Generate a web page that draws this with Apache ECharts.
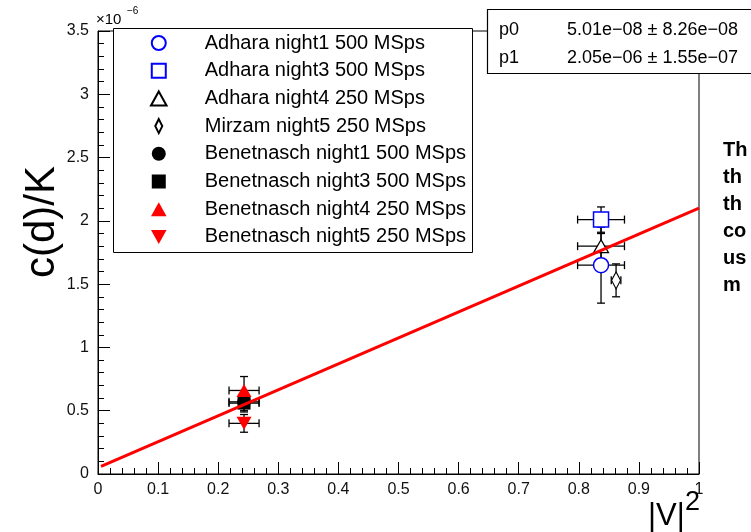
<!DOCTYPE html>
<html><head><meta charset="utf-8">
<script src="https://cdn.jsdelivr.net/npm/echarts@6/dist/echarts.min.js"></script>
<style>html,body{margin:0;padding:0;background:#fff;overflow:hidden}#c{width:751px;height:532px}</style>
</head><body><div id="c"></div>
<script>
// c(d)/K values are given in units of 1e-6 (axis multiplier shown as x10^-6)
const seriesNames = [
  'Adhara night1 500 MSps',
  'Adhara night3 500 MSps',
  'Adhara night4 250 MSps',
  'Mirzam night5 250 MSps',
  'Benetnasch night1 500 MSps',
  'Benetnasch night3 500 MSps',
  'Benetnasch night4 250 MSps',
  'Benetnasch night5 250 MSps'
];
const xValues = [0.837, 0.837, 0.837, 0.862, 0.243, 0.243, 0.243, 0.243];
const yValues = [1.65, 2.01, 1.80, 1.53, 0.57, 0.56, 0.66, 0.40];
const xErrors = [0.039, 0.039, 0.039, 0.008, 0.025, 0.025, 0.025, 0.025];
const yErrors = [0.30, 0.10, 0.10, 0.13, 0.08, 0.06, 0.11, 0.07];
const fitX = [0.005, 1.0];
const fitY = [0.06, 2.10];
const xTickLabels = ['0','0.1','0.2','0.3','0.4','0.5','0.6','0.7','0.8','0.9','1'];
const yTickLabels = ['0','0.5','1','1.5','2','2.5','3','3.5'];
const fitParamNames = ['p0', 'p1'];
const fitParamValues = ['5.01e\u221208 \u00b1 8.26e\u221208', '2.05e\u221206 \u00b1 1.55e\u221207'];
const sideText = ['Th', 'th', 'th', 'co', 'us', 'm'];

const FONT = '"Liberation Sans", Arial, Helvetica, sans-serif';
const SQUARE = 'path://M0,0L10,0L10,10L0,10Z';
const UP = 'path://M5,0L10,9L0,9Z';
const DOWN = 'path://M0,0L10,0L5,9Z';
const markerStyles = [
  {symbol: 'circle', size: 15, fill: '#ffffff', stroke: '#0000ff', bw: 1.5},
  {symbol: SQUARE, size: 15, fill: '#ffffff', stroke: '#0000ff', bw: 1.5},
  {symbol: UP, size: [15, 13], fill: '#ffffff', stroke: '#000000', bw: 1.2},
  {symbol: 'path://M4,0L8,8L4,16L0,8Z', size: [9, 17], fill: '#ffffff', stroke: '#000000', bw: 1.2},
  {symbol: 'circle', size: 14, fill: '#000000', stroke: '#000000', bw: 0},
  {symbol: SQUARE, size: 13, fill: '#000000', stroke: '#000000', bw: 0},
  {symbol: UP, size: [15, 13], fill: '#ff0000', stroke: '#ff0000', bw: 0},
  {symbol: DOWN, size: [15, 13], fill: '#ff0000', stroke: '#ff0000', bw: 0}
];

const chart = echarts.init(document.getElementById('c'), null, {renderer: 'canvas'});

const series = [];
// error bars
series.push({
  type: 'custom', name: 'errors', z: 2,
  data: xValues.map((x, i) => [x, yValues[i], xErrors[i], yErrors[i]]),
  encode: {x: 0, y: 1},
  renderItem: function (params, api) {
    const x = api.value(0), y = api.value(1), ex = api.value(2), ey = api.value(3);
    const c = api.coord([x, y]);
    const l = api.coord([x - ex, y]), r = api.coord([x + ex, y]);
    const t = api.coord([x, y + ey]), b = api.coord([x, y - ey]);
    const cap = 4;
    const st = {stroke: '#000', lineWidth: 1.3};
    return {type: 'group', children: [
      {type: 'line', shape: {x1: l[0], y1: c[1], x2: r[0], y2: c[1]}, style: st},
      {type: 'line', shape: {x1: c[0], y1: t[1], x2: c[0], y2: b[1]}, style: st},
      {type: 'line', shape: {x1: l[0], y1: c[1] - cap, x2: l[0], y2: c[1] + cap}, style: st},
      {type: 'line', shape: {x1: r[0], y1: c[1] - cap, x2: r[0], y2: c[1] + cap}, style: st},
      {type: 'line', shape: {x1: c[0] - cap, y1: t[1], x2: c[0] + cap, y2: t[1]}, style: st},
      {type: 'line', shape: {x1: c[0] - cap, y1: b[1], x2: c[0] + cap, y2: b[1]}, style: st}
    ]};
  },
  silent: true
});
seriesNames.forEach((name, i) => {
  const m = markerStyles[i];
  series.push({
    type: 'scatter', name: name, z: 3,
    symbol: m.symbol, symbolSize: m.size,
    itemStyle: {color: m.fill, borderColor: m.stroke, borderWidth: m.bw, opacity: 1},
    data: [[xValues[i], yValues[i]]]
  });
});
series.push({
  type: 'line', name: 'fit', z: 4, symbol: 'none',
  lineStyle: {color: '#ff0000', width: 3},
  data: fitX.map((x, i) => [x, fitY[i]]),
  silent: true
});

const graphics = [
  // legend box
  {type: 'rect', z: 10, shape: {x: 113.5, y: 28.5, width: 359, height: 224}, style: {fill: '#fff', stroke: '#000', lineWidth: 1}},
  // stats box
  {type: 'rect', z: 10, shape: {x: 487.5, y: 9.5, width: 290, height: 64}, style: {fill: '#fff', stroke: '#000', lineWidth: 1.2}},
  // y-axis title
  {type: 'text', z: 10, x: 42, y: 222, rotation: Math.PI / 2,
   style: {text: 'c(d)/K', font: '42px ' + FONT, fill: '#000', align: 'center', verticalAlign: 'middle'}},
  // x-axis title
  {type: 'text', z: 10, x: 648, y: 516, style: {text: '|V|', font: '31px ' + FONT, fill: '#000', align: 'left', verticalAlign: 'middle'}},
  {type: 'text', z: 10, x: 685, y: 503, style: {text: '2', font: '27px ' + FONT, fill: '#000', align: 'left', verticalAlign: 'middle'}},
  // multiplier
  {type: 'text', z: 10, x: 96, y: 20, style: {text: '\u00d710', font: '15px ' + FONT, fill: '#000', align: 'left', verticalAlign: 'middle'}},
  {type: 'text', z: 10, x: 127, y: 11, style: {text: '\u22126', font: '10px ' + FONT, fill: '#000', align: 'left', verticalAlign: 'middle'}}
];
fitParamNames.forEach((p, i) => {
  graphics.push({type: 'text', z: 11, x: 499, y: 30 + i * 28,
    style: {text: p, font: '18px ' + FONT, fill: '#000', align: 'left', verticalAlign: 'middle'}});
  graphics.push({type: 'text', z: 11, x: 567, y: 30 + i * 28,
    style: {text: fitParamValues[i], font: '18px ' + FONT, fill: '#000', align: 'left', verticalAlign: 'middle'}});
});
sideText.forEach((t, i) => {
  graphics.push({type: 'text', z: 11, x: 723, y: 150 + i * 27,
    style: {text: t, font: 'bold 20px ' + FONT, fill: '#000', align: 'left', verticalAlign: 'middle'}});
});

chart.setOption({
  animation: false,
  backgroundColor: '#fff',
  grid: {left: 98, right: 52, top: 31, bottom: 58, show: true, borderColor: '#000', borderWidth: 1, backgroundColor: '#fff'},
  xAxis: {
    type: 'value', min: 0, max: 1, interval: 0.1,
    axisLine: {show: true, lineStyle: {color: '#000', width: 1}},
    axisTick: {show: true, inside: true, length: 12, lineStyle: {color: '#000'}},
    minorTick: {show: true, splitNumber: 5, length: 6, lineStyle: {color: '#000'}},
    splitLine: {show: false},
    axisLabel: {fontSize: 16, fontFamily: FONT, color: '#111', margin: 8,
      formatter: v => xTickLabels[Math.round(v * 10)]}
  },
  yAxis: {
    type: 'value', min: 0, max: 3.5, interval: 0.5,
    axisLine: {show: true, lineStyle: {color: '#000', width: 1}},
    axisTick: {show: true, inside: true, length: 12, lineStyle: {color: '#000'}},
    minorTick: {show: true, splitNumber: 5, length: 6, lineStyle: {color: '#000'}},
    splitLine: {show: false},
    axisLabel: {fontSize: 16, fontFamily: FONT, color: '#111', margin: 9,
      formatter: v => yTickLabels[Math.round(v * 2)]}
  },
  legend: {
    data: seriesNames, orient: 'vertical', left: 150, top: 33, padding: 0,
    itemWidth: 82, itemHeight: 14, itemGap: 7.7, z: 20, selectedMode: false,
    textStyle: {fontSize: 20, fontFamily: FONT, color: '#000', lineHeight: 20}
  },
  graphic: graphics,
  series: series
});
</script></body></html>
